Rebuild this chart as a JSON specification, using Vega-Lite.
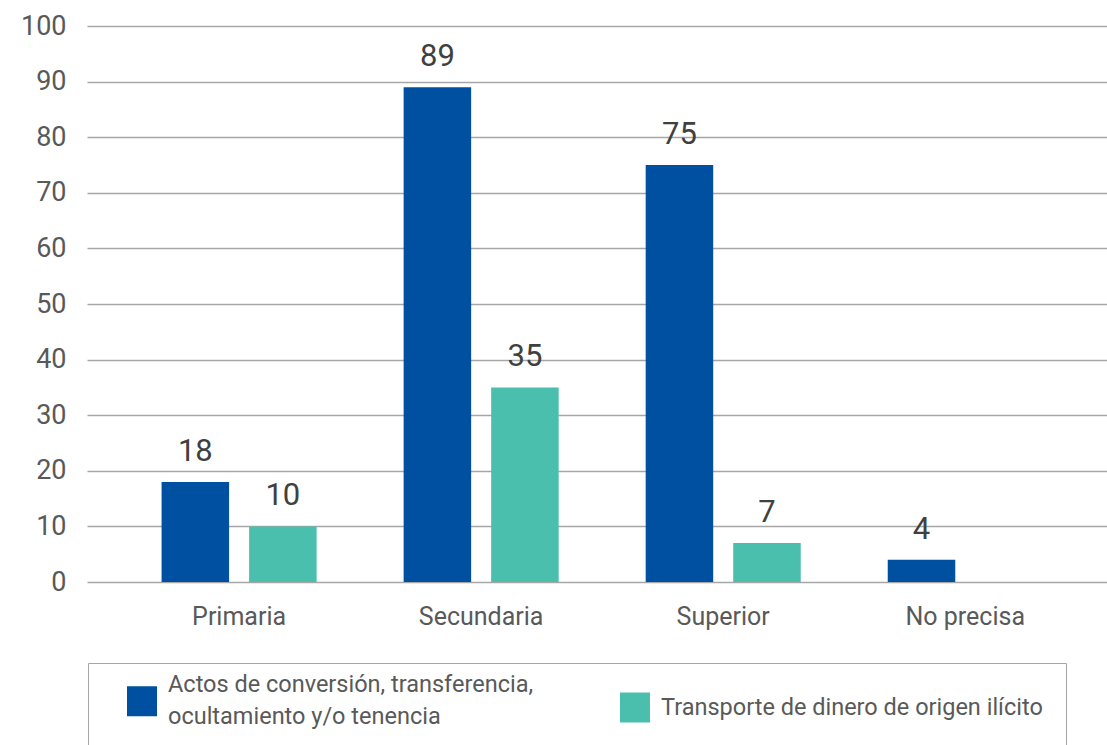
{
  "$schema": "https://vega.github.io/schema/vega-lite/v6.json",
  "width": 1020,
  "height": 556,
  "autosize": {"type": "none"},
  "padding": {"left": 87, "top": 26, "right": 0, "bottom": 163},
  "background": "white",
  "config": {
    "font": "Roboto",
    "view": {"stroke": null},
    "style": {"guide-label": {"lineHeight": 32}}
  },
  "data": {
    "values": [
      {"nivel": "Primaria", "serie": "Actos de conversión, transferencia, ocultamiento y/o tenencia", "valor": 18},
      {"nivel": "Primaria", "serie": "Transporte de dinero de origen ilícito", "valor": 10},
      {"nivel": "Secundaria", "serie": "Actos de conversión, transferencia, ocultamiento y/o tenencia", "valor": 89},
      {"nivel": "Secundaria", "serie": "Transporte de dinero de origen ilícito", "valor": 35},
      {"nivel": "Superior", "serie": "Actos de conversión, transferencia, ocultamiento y/o tenencia", "valor": 75},
      {"nivel": "Superior", "serie": "Transporte de dinero de origen ilícito", "valor": 7},
      {"nivel": "No precisa", "serie": "Actos de conversión, transferencia, ocultamiento y/o tenencia", "valor": 4}
    ]
  },
  "encoding": {
    "x": {
      "field": "nivel", "type": "nominal",
      "sort": ["Primaria", "Secundaria", "Superior", "No precisa"],
      "scale": {"paddingInner": 0, "paddingOuter": 0.107, "align": 0.6},
      "axis": {"title": null, "labelAngle": 0, "domain": false, "ticks": false, "labelPadding": 22, "labelFontSize": 25, "labelColor": "#595959", "labelBaseline": "top"}
    },
    "xOffset": {
      "field": "serie", "type": "nominal",
      "sort": ["Actos de conversión, transferencia, ocultamiento y/o tenencia", "Transporte de dinero de origen ilícito"],
      "scale": {"paddingInner": 0.2286, "paddingOuter": 0.497}
    },
    "y": {
      "field": "valor", "type": "quantitative",
      "scale": {"domain": [0, 100], "nice": false},
      "axis": {"title": null, "values": [0, 10, 20, 30, 40, 50, 60, 70, 80, 90, 100], "domain": false, "ticks": false, "labelPadding": 21, "labelFontSize": 27, "labelColor": "#595959", "gridColor": "#A6A6A6", "gridWidth": 1.5}
    }
  },
  "layer": [
    {
      "mark": {"type": "bar"},
      "encoding": {
        "color": {
          "field": "serie", "type": "nominal",
          "sort": ["Actos de conversión, transferencia, ocultamiento y/o tenencia", "Transporte de dinero de origen ilícito"],
          "scale": {"range": ["#0050A1", "#4ABFAD"]},
          "legend": {
            "title": null,
            "orient": "none",
            "legendX": 1,
            "legendY": 637,
            "direction": "horizontal",
            "columns": 2,
            "padding": 23,
            "symbolOffset": 16,
            "symbolType": "square",
            "symbolSize": 900,
            "symbolStrokeWidth": 0,
            "labelFontSize": 23.5,
            "labelColor": "#595959",
            "labelLimit": 700,
            "labelOffset": 11,
            "columnPadding": 70,
            "strokeColor": "#A6A6A6",
            "labelExpr": "indexof(datum.label, 'Actos') == 0 ? ['Actos de conversión, transferencia,', 'ocultamiento y/o tenencia'] : datum.label",
            "encode": {
              "labels": {"update": {"dy": {"signal": "datum.index === 0 ? -16 : 0"}}}
            }
          }
        }
      }
    },
    {
      "mark": {"type": "text", "baseline": "alphabetic", "dy": -21, "fontSize": 31, "color": "#404040"},
      "encoding": {"text": {"field": "valor", "type": "quantitative"}}
    }
  ]
}
